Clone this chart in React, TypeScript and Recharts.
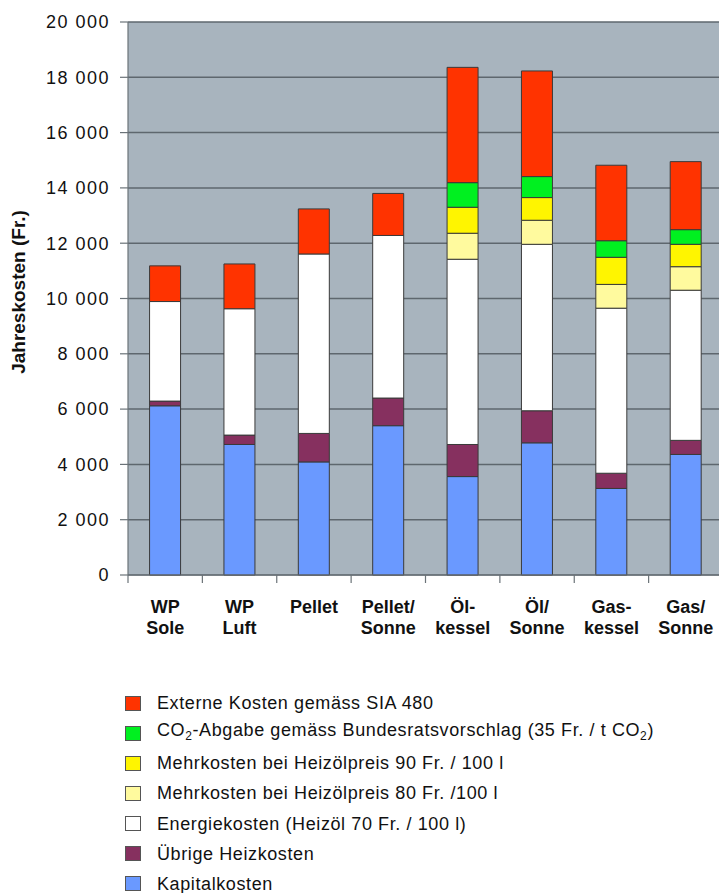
import { BarChart, Bar, XAxis, YAxis, CartesianGrid, Label } from 'recharts'

const categories = ['WP\nSole', 'WP\nLuft', 'Pellet', 'Pellet/\nSonne', 'Öl-\nkessel', 'Öl/\nSonne', 'Gas-\nkessel', 'Gas/\nSonne']

const kapital = [6120, 4720, 4090, 5400, 3560, 4780, 3130, 4360]
const uebrige = [170, 340, 1030, 1000, 1160, 1160, 550, 510]
const energie = [3600, 4570, 6490, 5880, 6700, 6020, 5970, 5430]
const mehr80 = [0, 0, 0, 0, 940, 870, 860, 850]
const mehr90 = [0, 0, 0, 0, 940, 820, 980, 810]
const co2 = [0, 0, 0, 0, 890, 760, 600, 530]
const extern = [1290, 1620, 1630, 1520, 4170, 3820, 2730, 2460]

const yTicks = [0, 2000, 4000, 6000, 8000, 10000, 12000, 14000, 16000, 18000, 20000]

// stacking order, bottom first
const seriesList = [
  { key: 'kapital', name: 'Kapitalkosten', color: '#6A99FF', values: kapital },
  { key: 'uebrige', name: 'Übrige Heizkosten', color: '#86305F', values: uebrige },
  { key: 'energie', name: 'Energiekosten (Heizöl 70 Fr. / 100 l)', color: '#FFFFFF', values: energie },
  { key: 'mehr80', name: 'Mehrkosten bei Heizölpreis 80 Fr. /100 l', color: '#FFFA9E', values: mehr80 },
  { key: 'mehr90', name: 'Mehrkosten bei Heizölpreis 90 Fr. / 100 l', color: '#FFF500', values: mehr90 },
  { key: 'co2', name: 'CO2-Abgabe gemäss Bundesratsvorschlag (35 Fr. / t CO2)', color: '#00F020', values: co2 },
  { key: 'extern', name: 'Externe Kosten gemäss SIA 480', color: '#FF3300', values: extern },
]

const data = categories.map((category, i) => {
  const row: Record<string, string | number> = { category }
  seriesList.forEach((s) => {
    row[s.key] = s.values[i]
  })
  return row
})

const CHART_W = 715
const PLOT_W = CHART_W - 120
const axisColor = '#6B7378'
const font = '"Liberation Sans", Arial, sans-serif'

const formatThousands = (v: number) => String(v).replace(/\B(?=(\d{3})+(?!\d))/g, ' ')

const CategoryTick = (props: any) => {
  const { x, y, payload, index } = props
  const half = payload?.offset || PLOT_W / categories.length / 2
  const lines = String(payload.value).split('\n')
  return (
    <g>
      <line x1={x - half} x2={x - half} y1={y} y2={y + 8} stroke={axisColor} strokeWidth={1.2} />
      {index === categories.length - 1 && (
        <line x1={x + half} x2={x + half} y1={y} y2={y + 8} stroke={axisColor} strokeWidth={1.2} />
      )}
      <text x={x} y={y} textAnchor="middle" fontFamily={font} fontWeight="bold" fontSize={18} fill="#111">
        {lines.map((line, i) => (
          <tspan key={i} x={x} dy={i === 0 ? 38 : 21}>
            {line}
          </tspan>
        ))}
      </text>
    </g>
  )
}

const YLabel = (props: any) => {
  const vb = props.viewBox || { x: 0, y: 0, height: 0 }
  const cx = vb.x + 17
  const cy = vb.y + vb.height / 2 - 6.5
  return (
    <text
      x={cx}
      y={cy}
      transform={`rotate(-90, ${cx}, ${cy})`}
      textAnchor="middle"
      fontFamily={font}
      fontWeight="bold"
      fontSize={19}
      fill="#111"
    >
      Jahreskosten (Fr.)
    </text>
  )
}

const renderName = (name: string) => {
  const parts = name.split('CO2')
  return parts.map((part, i) => (
    <span key={i}>
      {i > 0 && (
        <>
          CO<sub style={{ fontSize: 12, verticalAlign: -4 }}>2</sub>
        </>
      )}
      {part}
    </span>
  ))
}

export default function App() {
  const legendItems = [...seriesList].reverse()
  return (
    // fixed to the viewport so nothing overflows and no scrollbars appear
    <div
      style={{
        position: 'fixed',
        top: 0,
        left: 0,
        width: '100vw',
        height: '100vh',
        overflow: 'hidden',
        fontFamily: font,
        background: '#fff',
      }}
    >
      <div style={{ position: 'absolute', left: 8, top: 8, width: CHART_W, height: 885 }}>
        <BarChart width={CHART_W} height={647} data={data} margin={{ top: 14, right: 0, left: 0, bottom: 0 }} barCategoryGap="29%">
          <CartesianGrid vertical={false} fill="#A8B4BE" stroke="#5E676E" strokeWidth={1.5} fillOpacity={1} />
          <XAxis
            dataKey="category"
            height={80}
            interval={0}
            tickSize={0}
            tickMargin={0}
            tickLine={false}
            axisLine={{ stroke: axisColor, strokeWidth: 1.2 }}
            tick={<CategoryTick />}
          />
          <YAxis
            width={120}
            domain={[0, 20000]}
            ticks={yTicks}
            interval={0}
            tickSize={8}
            tickMargin={10}
            tickLine={{ stroke: axisColor, strokeWidth: 1.2 }}
            axisLine={{ stroke: axisColor, strokeWidth: 1.2 }}
            tickFormatter={formatThousands}
            tick={{ fill: '#111', fontSize: 18, fontFamily: font, letterSpacing: 1.5 }}
          >
            <Label content={<YLabel />} />
          </YAxis>
          {seriesList.map((s) => (
            <Bar
              key={s.key}
              dataKey={s.key}
              name={s.name}
              stackId="a"
              fill={s.color}
              stroke="#3A3A3A"
              strokeWidth={1}
              isAnimationActive={false}
            />
          ))}
        </BarChart>
        {legendItems.map((s, i) => (
          <div
            key={s.key}
            style={{
              position: 'absolute',
              left: 117,
              top: 686 + i * 30.15,
              height: 18,
              display: 'flex',
              alignItems: 'center',
              whiteSpace: 'nowrap',
            }}
          >
            <div
              style={{
                width: 14,
                height: 13,
                background: s.color,
                border: '1px solid #555',
                marginRight: 16,
              }}
            />
            <span style={{ fontSize: 18, letterSpacing: 0.6, color: '#111', lineHeight: '18px' }}>{renderName(s.name)}</span>
          </div>
        ))}
      </div>
    </div>
  )
}
